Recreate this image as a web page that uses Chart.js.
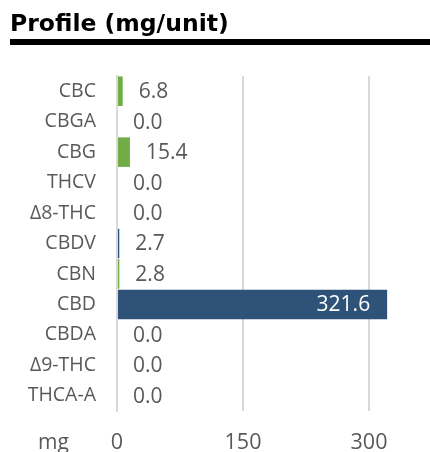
<!DOCTYPE html>
<html>
<head>
<meta charset="utf-8">
<script src="https://cdn.jsdelivr.net/npm/chart.js@4/dist/chart.umd.min.js"></script>
<style>
  body { margin: 0; background: #fff; }
  #wrap { position: relative; width: 430px; height: 452px; overflow: hidden; }
  #title { position: absolute; left: 10px; top: 11px; font: bold 23.5px 'DejaVu Sans', sans-serif; line-height: 24px; color: #000; white-space: nowrap; }
  #rule { position: absolute; left: 10px; top: 39px; width: 420px; height: 6px; background: #000; }
  #chart { position: absolute; left: 0; top: 0; }
</style>
</head>
<body>
<div id="wrap">
  <canvas id="chart" width="430" height="452"></canvas>
  <div id="title">Profile (mg/unit)</div>
  <div id="rule"></div>
</div>
<script>
const labels = ['CBC', 'CBGA', 'CBG', 'THCV', 'Δ8-THC', 'CBDV', 'CBN', 'CBD', 'CBDA', 'Δ9-THC', 'THCA-A'];
const amounts = [6.8, 0.0, 15.4, 0.0, 0.0, 2.7, 2.8, 321.6, 0.0, 0.0, 0.0];
const barColors = ['#70ad47', '#70ad47', '#70ad47', '#70ad47', '#70ad47', '#2f5279', '#70ad47', '#2f5279', '#2f5279', '#70ad47', '#70ad47'];
const xTicks = [0, 150, 300];
const axisTitle = 'mg';

const grey = '#595959';
const font = "'Open Sans', sans-serif";

// value labels next to the bars (inside for the long one), plus the "mg" unit
const valueLabels = {
    id: 'valueLabels',
    afterDatasetsDraw(chart) {
        const c = chart.ctx;
        const meta = chart.getDatasetMeta(0);
        c.save();
        c.font = '21px ' + font;
        c.textBaseline = 'middle';
        meta.data.forEach((bar, i) => {
            const txt = amounts[i].toFixed(1);
            if (bar.x - bar.base > 150) {
                c.fillStyle = '#ffffff';
                c.textAlign = 'right';
                c.fillText(txt, bar.x - 17, bar.y + 1);
            } else {
                c.fillStyle = grey;
                c.textAlign = 'left';
                c.fillText(txt, bar.x + 16, bar.y + 1);
            }
        });
        c.fillStyle = grey;
        c.textAlign = 'left';
        c.fillText(axisTitle, 38, 443);
        c.restore();
    }
};

new Chart(document.getElementById('chart'), {
    type: 'bar',
    data: {
        labels: labels,
        datasets: [{
            data: amounts,
            backgroundColor: barColors,
            barPercentage: 0.97,
            categoryPercentage: 1
        }]
    },
    options: {
        indexAxis: 'y',
        responsive: false,
        animation: false,
        layout: { padding: { top: 76, right: 19, left: 0, bottom: 0 } },
        plugins: { legend: { display: false }, tooltip: { enabled: false } },
        scales: {
            x: {
                min: 0,
                max: 350,
                afterFit: (s) => { s.height = 41; },
                afterBuildTicks: (s) => { s.ticks = xTicks.map(v => ({ value: v })); },
                grid: { color: '#d9d9d9', lineWidth: 2, drawTicks: false },
                border: { display: false },
                ticks: { color: grey, font: { family: font, size: 21.5 }, padding: 19 }
            },
            y: {
                afterFit: (s) => { s.width = 117; },
                grid: { display: false, drawTicks: false },
                border: { display: true, color: '#d9d9d9', width: 2 },
                ticks: { color: grey, font: { family: font, size: 19.5 }, padding: 21 }
            }
        }
    },
    plugins: [valueLabels]
});
</script>
</body>
</html>
